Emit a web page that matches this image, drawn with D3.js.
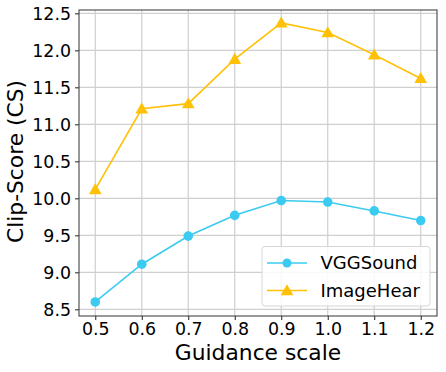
<!DOCTYPE html>
<html><head><meta charset="utf-8">
<script src="https://cdn.jsdelivr.net/npm/d3@7"></script>
<style>body{margin:0;background:#fff}svg{display:block;font-family:"DejaVu Sans",sans-serif}</style>
</head><body><svg id="c" width="446" height="372"></svg>
<script>
const guidance = [0.5, 0.6, 0.7, 0.8, 0.9, 1.0, 1.1, 1.2];
const vggSound = [8.60, 9.11, 9.49, 9.77, 9.97, 9.95, 9.83, 9.70];
const imageHear = [10.12, 11.21, 11.28, 11.88, 12.37, 12.24, 11.94, 11.62];
const xTicks = [0.5, 0.6, 0.7, 0.8, 0.9, 1.0, 1.1, 1.2];
const yTicks = [8.5, 9.0, 9.5, 10.0, 10.5, 11.0, 11.5, 12.0, 12.5];
const seriesNames = ["VGGSound", "ImageHear"];
const colors = ["#3ccbf0", "#ffc107"];

const svg = d3.select("#c");
const L = 79, R = 437, T = 10, B = 316;
const x = d3.scaleLinear().domain([0.465, 1.235]).range([L, R]);
const y = d3.scaleLinear().domain([8.41, 12.545]).range([B, T]);

// grid
const g = svg.append("g");
g.selectAll("line.vx").data(xTicks).join("line")
  .attr("x1", d => x(d)).attr("x2", d => x(d)).attr("y1", T).attr("y2", B)
  .attr("stroke", "#cfcfcf").attr("stroke-width", 1.2);
g.selectAll("line.hy").data(yTicks).join("line")
  .attr("y1", d => y(d)).attr("y2", d => y(d)).attr("x1", L).attr("x2", R)
  .attr("stroke", "#cfcfcf").attr("stroke-width", 1.2);

// axes
const xAxis = d3.axisBottom(x).tickValues(xTicks).tickFormat(d3.format(".1f")).tickSizeInner(4).tickSizeOuter(0).tickPadding(4);
const yAxis = d3.axisLeft(y).tickValues(yTicks).tickFormat(d3.format(".1f")).tickSizeInner(4).tickSizeOuter(0).tickPadding(4);
const gx = svg.append("g").attr("transform", `translate(0,${B})`).call(xAxis);
const gy = svg.append("g").attr("transform", `translate(${L},0)`).call(yAxis);
[gx, gy].forEach(a => {
  a.select(".domain").remove();
  a.selectAll("line").attr("stroke", "#222").attr("stroke-width", 1);
  a.selectAll("text").attr("font-size", 17.4).attr("fill", "#000").attr("font-family", "DejaVu Sans");
});
gx.selectAll("text").attr("dy", null).attr("y", 19);
gy.selectAll("text").attr("dy", "0.36em");

// frame
svg.append("rect").attr("x", L).attr("y", T).attr("width", R - L).attr("height", B - T)
  .attr("fill", "none").attr("stroke", "#333").attr("stroke-width", 1);

// labels
svg.append("text").attr("x", (L + R) / 2).attr("y", 360).attr("text-anchor", "middle")
  .attr("font-size", 21.8).text("Guidance scale");
svg.append("text").attr("transform", `translate(23,${161.5}) rotate(-90)`).attr("text-anchor", "middle")
  .attr("font-size", 21.8).text("Clip-Score (CS)");

const line = d3.line().x((d, i) => x(guidance[i])).y(d => y(d));
const data = [vggSound, imageHear];
const tri = d3.symbol().type(d3.symbolTriangle).size(70);

data.forEach((vals, si) => {
  svg.append("path").attr("d", line(vals)).attr("fill", "none")
    .attr("stroke", colors[si]).attr("stroke-width", 1.6);
  if (si === 0) {
    svg.selectAll(null).data(vals).join("circle")
      .attr("cx", (d, i) => x(guidance[i])).attr("cy", d => y(d)).attr("r", 4.8).attr("fill", colors[si]);
  } else {
    svg.selectAll(null).data(vals).join("path").attr("d", tri)
      .attr("transform", (d, i) => `translate(${x(guidance[i])},${y(d) + 1})`).attr("fill", colors[si]);
  }
});

// legend
const lg = svg.append("g");
lg.append("rect").attr("x", 262).attr("y", 246.5).attr("width", 168).attr("height", 59.5).attr("rx", 3)
  .attr("fill", "rgba(255,255,255,0.85)").attr("stroke", "#d6d6d6").attr("stroke-width", 1);
seriesNames.forEach((name, i) => {
  const yy = 263 + i * 27.5;
  lg.append("line").attr("x1", 267).attr("x2", 307).attr("y1", yy).attr("y2", yy)
    .attr("stroke", colors[i]).attr("stroke-width", 1.6);
  if (i === 0) lg.append("circle").attr("cx", 287).attr("cy", yy).attr("r", 4.5).attr("fill", colors[i]);
  else lg.append("path").attr("d", tri).attr("transform", `translate(287,${yy + 1})`).attr("fill", colors[i]);
  lg.append("text").attr("x", 320.5).attr("y", yy).attr("dy", "0.36em").attr("font-size", 18).text(name);
});
</script></body></html>
